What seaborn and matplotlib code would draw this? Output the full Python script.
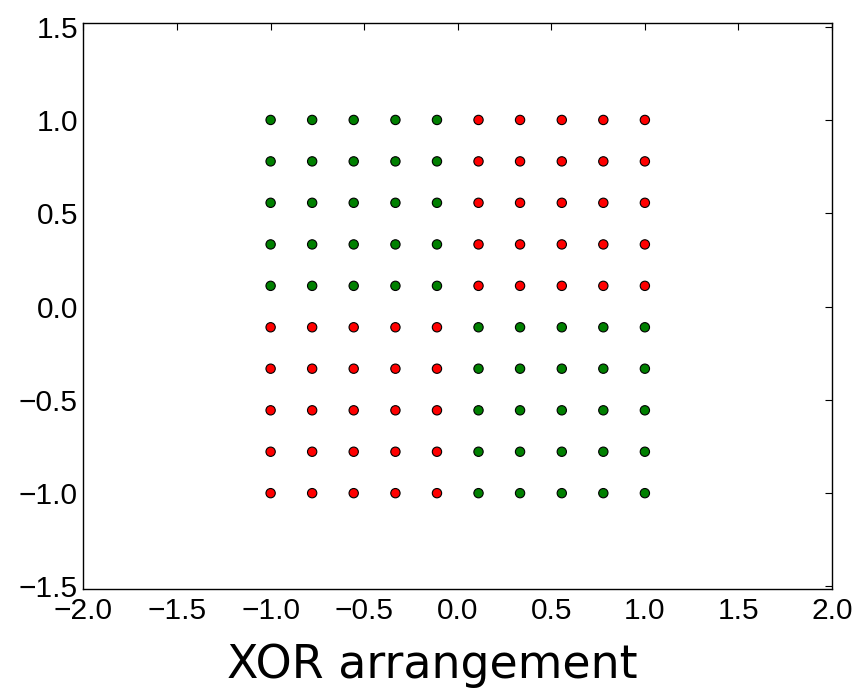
import seaborn as sns
import pandas as pd
import matplotlib.pyplot as plt

# grid coordinates (10 evenly spaced points from -1 to 1)
grid_values = [-1.0, -0.778, -0.556, -0.333, -0.111, 0.111, 0.333, 0.556, 0.778, 1.0]

# class per grid cell: rows are y (top to bottom = 1.0 .. -1.0), columns are x (-1.0 .. 1.0)
# G = green, R = red
class_rows = [
    "GGGGGRRRRR",
    "GGGGGRRRRR",
    "GGGGGRRRRR",
    "GGGGGRRRRR",
    "GGGGGRRRRR",
    "RRRRRGGGGG",
    "RRRRRGGGGG",
    "RRRRRGGGGG",
    "RRRRRGGGGG",
    "RRRRRGGGGG",
]
y_values = grid_values[::-1]

x_ticks = [-2.0, -1.5, -1.0, -0.5, 0.0, 0.5, 1.0, 1.5, 2.0]
y_ticks = [-1.5, -1.0, -0.5, 0.0, 0.5, 1.0, 1.5]

rows = []
for yi, row in zip(y_values, class_rows):
    for xi, c in zip(grid_values, row):
        rows.append({"x": xi, "y": yi, "cls": c})
df = pd.DataFrame(rows)

sns.set_style("white")
plt.rcParams['font.family'] = ['Liberation Sans', 'DejaVu Sans']
plt.rcParams['axes.unicode_minus'] = True

fig = plt.figure(figsize=(8.58, 6.93), dpi=100)
ax = fig.add_axes([0.0973, 0.1505, 0.8724, 0.8167])

sns.scatterplot(data=df, x="x", y="y", hue="cls",
                palette={"G": "#008000", "R": "#ff0000"},
                s=45, edgecolor="black", linewidth=0.8, legend=False, ax=ax)

ax.set_xlim(-2, 2)
ax.set_ylim(-1.512, 1.521)
ax.set_xticks(x_ticks)
ax.set_yticks(y_ticks)
ax.set_xticklabels([f"{v:.1f}".replace('-', '\u2212') for v in x_ticks])
ax.set_yticklabels([f"{v:.1f}".replace('-', '\u2212') for v in y_ticks])
ax.tick_params(direction='in', length=5, width=0.8, top=True, right=True,
               labelsize=21.5, pad=4, colors='black')
ax.tick_params(axis='x', pad=6)
for sp in ax.spines.values():
    sp.set_color('black')
    sp.set_linewidth(1.0)

ax.set_xlabel("XOR arrangement", fontsize=33, family='DejaVu Sans',
              color='black', labelpad=13, x=0.4656)
ax.set_ylabel("")

fig.savefig("out.png", dpi=100)
